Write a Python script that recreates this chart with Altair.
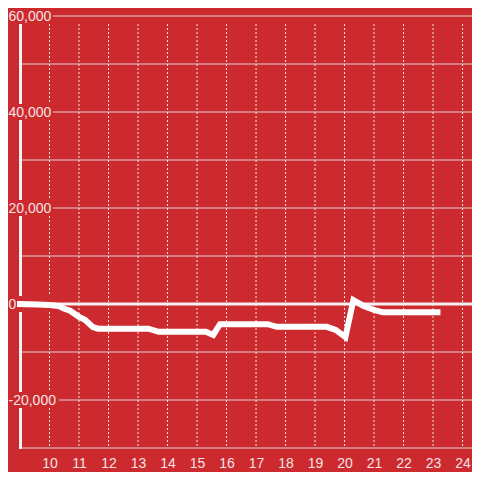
import altair as alt
import pandas as pd

# data
xs = [9.0, 9.6, 10.0, 10.3, 10.5, 10.7, 11.0, 11.2, 11.47, 11.65, 13.35, 13.7, 15.3, 15.55, 15.78, 17.4, 17.7, 19.4, 19.7, 20.03, 20.3, 20.63, 21.0, 21.3, 23.15]
ys = [0, -100, -200, -400, -1000, -1400, -2700, -3300, -4800, -5150, -5150, -5800, -5800, -6450, -4200, -4200, -4750, -4750, -5400, -6900, 800, -350, -1250, -1730, -1730]

x_ticks = list(range(10, 25))
grid_values = [60000, 50000, 40000, 30000, 20000, 10000, -10000, -20000, -30000]
label_values = [60000, 40000, 20000, 0, -20000]
label_texts = ["60,000", "40,000", "20,000", "0", "-20,000"]

BG = "#cc2a2f"
W, H = 452, 432

line_df = pd.DataFrame({"x": xs, "y": ys})
xt_df = pd.DataFrame({"t": x_ticks})
grid_df = pd.DataFrame({"g": grid_values})
lab_df = pd.DataFrame({"v": label_values, "txt": label_texts})

xscale = alt.Scale(domain=[9, 24.32], nice=False, zero=False)
yscale = alt.Scale(domain=[-30000, 60000], nice=False, zero=False)

xax = alt.Axis(values=x_ticks, grid=False, domain=False, ticks=False, labelPadding=8,
               labelOverlap=False, labelFontSize=14, labelColor="#f4e4e4",
               labelFont="Liberation Sans", title=None)

hgrid = alt.Chart(grid_df).mark_rule(color="#d9d2d2", strokeWidth=1).encode(
    y=alt.Y("g:Q", scale=yscale, axis=None), x=alt.value(0), x2=alt.value(W))

vgrid = alt.Chart(xt_df).mark_rule(color="#f0e6e6", strokeWidth=1, strokeDash=[2, 2]).encode(
    x=alt.X("t:Q", scale=xscale, axis=xax), y=alt.value(8), y2=alt.value(H))

axis_line = alt.Chart(xt_df).mark_rule(color="#f2f2f2", strokeWidth=3).encode(
    x=alt.value(0.5), y=alt.value(8), y2=alt.value(H + 1))

label_bg_pos = alt.Chart(lab_df).transform_filter("datum.v >= 0").mark_rule(
    color=BG, strokeWidth=16).encode(
    y=alt.Y("v:Q", scale=yscale, axis=None), x=alt.value(-20), x2=alt.value(33))

label_bg_neg = alt.Chart(lab_df).transform_filter("datum.v < 0").mark_rule(
    color=BG, strokeWidth=16).encode(
    y=alt.Y("v:Q", scale=yscale, axis=None), x=alt.value(-20), x2=alt.value(39))

zero_line = alt.Chart(pd.DataFrame({"z": [0]})).mark_rule(color="#f4f0f0", strokeWidth=3).encode(
    y=alt.Y("z:Q", scale=yscale, axis=None), x=alt.value(-3), x2=alt.value(W))

labels = alt.Chart(lab_df).mark_text(align="left", baseline="middle", fontSize=14, dy=1,
                                     font="Liberation Sans", color="#f4e4e4").encode(
    y=alt.Y("v:Q", scale=yscale, axis=None), x=alt.value(-11.5), text="txt:N")

line = alt.Chart(line_df).mark_line(color="white", strokeWidth=6, strokeCap="square", clip=False).encode(
    x=alt.X("x:Q", scale=xscale, axis=xax), y=alt.Y("y:Q", scale=yscale, axis=None))

chart = alt.layer(hgrid, vgrid, axis_line, label_bg_pos, label_bg_neg, zero_line, labels, line).properties(
    width=W, height=H, background=BG,
    padding={"left": 12, "top": 8, "right": 0, "bottom": 24},
    autosize=alt.AutoSizeParams(type="none"),
).configure_view(stroke=None, fill=BG)

chart.save("out.html", embed_options={"renderer": "svg", "actions": False})
